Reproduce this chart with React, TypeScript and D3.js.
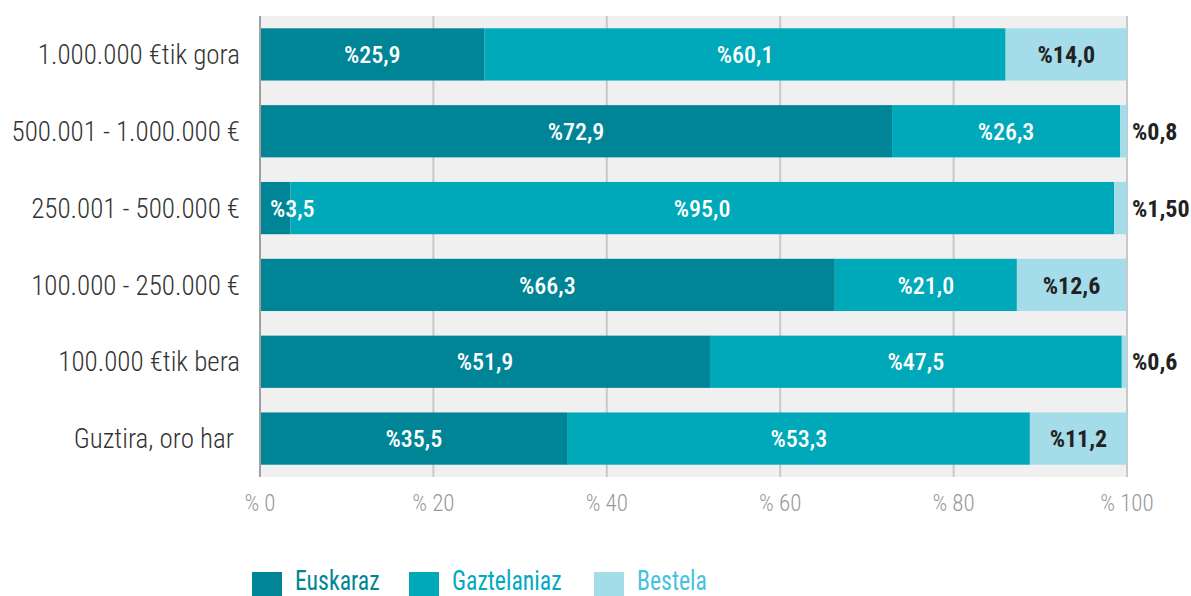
import React from "react";
import * as d3 from "d3";

const categories = [
  "1.000.000 €tik gora",
  "500.001 - 1.000.000 €",
  "250.001 - 500.000 €",
  "100.000 - 250.000 €",
  "100.000 €tik bera",
  "Guztira, oro har ",
];
const seriesNames = ["Euskaraz", "Gaztelaniaz", "Bestela"];
const euskaraz = [25.9, 72.9, 3.5, 66.3, 51.9, 35.5];
const gaztelaniaz = [60.1, 26.3, 95.0, 21.0, 47.5, 53.3];
const bestela = [14.0, 0.8, 1.5, 12.6, 0.6, 11.2];
const bestelaLabels = ["%14,0", "%0,8", "%1,50", "%12,6", "%0,6", "%11,2"];
const xTicks = [0, 20, 40, 60, 80, 100];

const colors = ["#008597", "#00a9b9", "#a5dcea"];
const legendTextColors = ["#008597", "#00a9c0", "#45c2de"];
const FONT = "'Roboto Condensed', 'Roboto', sans-serif";

export default function App() {
  const W = 1191;
  const H = 596;
  const x = d3.scaleLinear().domain([0, 100]).range([260, 1127]);
  const y = d3
    .scaleBand<string>()
    .domain(categories)
    .range([16, 477])
    .paddingInner(0.32)
    .paddingOuter(0.16);
  const series = [euskaraz, gaztelaniaz, bestela];
  const fmt = (v: number) => "%" + d3.format(".1f")(v).replace(".", ",");

  const bars: React.ReactNode[] = [];
  const labels: React.ReactNode[] = [];
  categories.forEach((c, i) => {
    let acc = 0;
    const by = y(c)!;
    const bh = y.bandwidth();
    series.forEach((s, k) => {
      const v = s[i];
      const x0 = x(acc);
      const x1 = x(acc + v);
      bars.push(
        <rect key={`b${i}-${k}`} x={x0} y={by} width={x1 - x0} height={bh} fill={colors[k]} />
      );
      const text = k === 2 ? bestelaLabels[i] : fmt(v);
      const fill = k === 2 ? "#222" : "#fff";
      const weight = k === 2 ? 700 : 500;
      let tx = (x0 + x1) / 2;
      let anchor: "middle" | "start" = "middle";
      if (v < 5) {
        anchor = "start";
        tx = k === 2 ? x(100) + 5 : x0 + 10;
      }
      labels.push(
        <text
          key={`l${i}-${k}`}
          x={tx}
          y={by + bh / 2}
          dy="0.36em"
          textAnchor={anchor}
          fill={fill}
          fontSize={24}
          fontWeight={weight}
          style={{ fontStretch: "condensed" }}
        >
          {text}
        </text>
      );
      acc += v;
    });
  });

  const legendX = [252, 409, 594];

  return (
    <svg width={W} height={H} style={{ position: "absolute", left: 0, top: 0 }} fontFamily={FONT}>
      <rect x={x(0)} y={16} width={x(100) - x(0)} height={461} fill="#f0f0f0" />
      {xTicks.slice(1).map((t) => (
        <line key={t} x1={x(t)} x2={x(t)} y1={16} y2={477} stroke="#c8c8c8" strokeWidth={2} />
      ))}
      {bars}
      <line x1={x(0)} x2={x(0)} y1={16} y2={477} stroke="#a0a0a0" strokeWidth={2} />
      {labels}
      {xTicks.map((t) => (
        <text
          key={`t${t}`}
          x={x(t)}
          y={511}
          textAnchor="middle"
          fill="#999"
          fontSize={23}
          fontWeight={300}
          style={{ fontStretch: "condensed" }}
        >
          {`% ${t}`}
        </text>
      ))}
      {categories.map((c) => (
        <text
          key={c}
          x={240}
          y={y(c)! + y.bandwidth() / 2}
          dy="0.36em"
          textAnchor="end"
          fill="#333"
          fontSize={27}
          fontWeight={300}
          style={{ fontStretch: "condensed", whiteSpace: "pre" }}
        >
          {c}
        </text>
      ))}
      {seriesNames.map((n, k) => (
        <g key={n}>
          <rect x={legendX[k]} y={572} width={30} height={24} fill={colors[k]} />
          <text
            transform={`translate(${legendX[k] + 43},590) scale(0.88,1)`}
            fill={legendTextColors[k]}
            fontSize={27}
            fontWeight={400}
            style={{ fontStretch: "condensed" }}
          >
            {n}
          </text>
        </g>
      ))}
    </svg>
  );
}
